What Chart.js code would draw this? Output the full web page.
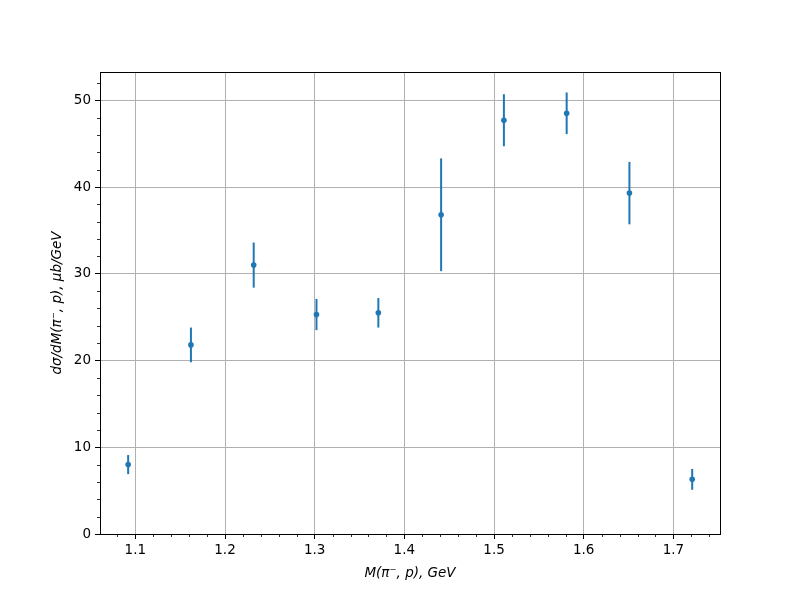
<!DOCTYPE html>
<html>
<head>
<meta charset="utf-8">
<script src="https://cdn.jsdelivr.net/npm/chart.js@4/dist/chart.umd.min.js"></script>
<style>
  html, body { margin: 0; padding: 0; background: #fff; }
</style>
</head>
<body>
<canvas id="massChart" width="800" height="600"></canvas>
<script>
// invariant mass bins (GeV) and cross section (ub/GeV) with errors
var massBins = [1.092, 1.162, 1.232, 1.302, 1.371, 1.441, 1.511, 1.581, 1.651, 1.721];
var xsec     = [8.0, 21.8, 31.0, 25.3, 25.5, 36.8, 47.7, 48.5, 39.3, 6.3];
var xsecErr  = [1.1, 2.0, 2.6, 1.8, 1.7, 6.5, 3.0, 2.4, 3.6, 1.2];

var xTickLabels = [1.1, 1.2, 1.3, 1.4, 1.5, 1.6, 1.7];
var yTickLabels = [0, 10, 20, 30, 40, 50];

var points = massBins.map(function(m, i) { return { x: m, y: xsec[i] }; });

var blue = "#1f77b4";

// error bars, spines and minor ticks
var decorations = {
    id: "decorations",
    beforeDatasetsDraw: function(chart) {
        var ctx = chart.ctx;
        var xs = chart.scales.x, ys = chart.scales.y;
        ctx.save();
        ctx.strokeStyle = blue;
        ctx.lineWidth = 2;
        for (var i = 0; i < massBins.length; i++) {
            var px = xs.getPixelForValue(massBins[i]);
            ctx.beginPath();
            ctx.moveTo(px, ys.getPixelForValue(xsec[i] - xsecErr[i]));
            ctx.lineTo(px, ys.getPixelForValue(xsec[i] + xsecErr[i]));
            ctx.stroke();
        }
        ctx.restore();
    },
    afterDraw: function(chart) {
        var ctx = chart.ctx;
        var a = chart.chartArea;
        var xs = chart.scales.x, ys = chart.scales.y;
        ctx.save();
        ctx.strokeStyle = "#000";
        ctx.lineWidth = 0.8;
        ctx.beginPath();
        for (var v = 1.08; v < xs.max; v += 0.02) {
            var r = Math.round(v * 100) / 100;
            if (Math.abs(r * 10 - Math.round(r * 10)) < 1e-6) continue;
            var px = Math.round(xs.getPixelForValue(r)) + 0.5;
            ctx.moveTo(px, a.bottom);
            ctx.lineTo(px, a.bottom + 3);
        }
        for (var w = 2; w < ys.max; w += 2) {
            if (w % 10 === 0) continue;
            var py = Math.round(ys.getPixelForValue(w)) + 0.5;
            ctx.moveTo(a.left, py);
            ctx.lineTo(a.left - 3, py);
        }
        ctx.stroke();
        ctx.lineWidth = 1;
        ctx.strokeRect(Math.round(a.left) + 0.5, Math.round(a.top) + 0.5,
                       Math.round(a.right - a.left), Math.round(a.bottom - a.top));
        ctx.restore();
    }
};

var ctx = document.getElementById("massChart").getContext("2d");
Chart.defaults.font.family = "'DejaVu Sans', sans-serif";
Chart.defaults.color = "#000";

new Chart(ctx, {
    type: "scatter",
    data: {
        datasets: [{
            data: points,
            backgroundColor: blue,
            borderColor: blue,
            pointRadius: 2.8,
            pointHoverRadius: 2.8,
            borderWidth: 0
        }]
    },
    plugins: [decorations],
    options: {
        responsive: false,
        animation: false,
        devicePixelRatio: 1,
        layout: { padding: { left: 0, right: 80, top: 72, bottom: 0 } },
        plugins: {
            legend: { display: false },
            tooltip: { enabled: false }
        },
        scales: {
            x: {
                type: "linear",
                min: 1.0606,
                max: 1.752,
                afterBuildTicks: function(scale) {
                    scale.ticks = xTickLabels.map(function(v) { return { value: v }; });
                },
                afterFit: function(scale) { scale.height = 66; },
                ticks: {
                    font: { size: 13.5 },
                    padding: 3,
                    maxRotation: 0,
                    callback: function(v) { return v.toFixed(1); }
                },
                grid: { color: "#b0b0b0", lineWidth: 1, tickColor: "#000", tickLength: 5 },
                border: { display: false },
                title: {
                    display: true,
                    text: "M(π⁻, p), GeV",
                    font: { size: 13.5, style: "italic" },
                    padding: { top: 0, bottom: 18 }
                }
            },
            y: {
                type: "linear",
                min: 0,
                max: 53.26,
                afterBuildTicks: function(scale) {
                    scale.ticks = yTickLabels.map(function(v) { return { value: v }; });
                },
                afterFit: function(scale) { scale.width = 100; },
                ticks: {
                    font: { size: 13.5 },
                    padding: 4
                },
                grid: { color: "#b0b0b0", lineWidth: 1, tickColor: "#000", tickLength: 5 },
                border: { display: false },
                title: {
                    display: true,
                    text: "dσ/dM(π⁻, p), μb/GeV",
                    font: { size: 13.5, style: "italic" },
                    padding: { top: 49, bottom: 0 }
                }
            }
        }
    }
});
</script>
</body>
</html>
